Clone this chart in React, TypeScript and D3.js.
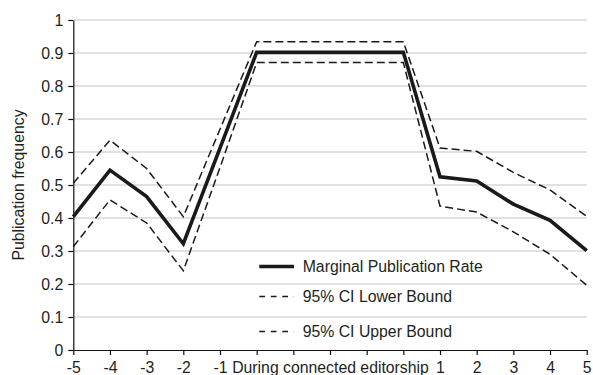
import React, { useEffect, useRef } from "react";
import * as d3 from "d3";

// x categories (Excel style, labels sit on the tick marks)
const categories = ["-5", "-4", "-3", "-2", "-1", "", "", "During connected editorship", "", "", "1", "2", "3", "4", "5"];
const marginalRate = [0.404, 0.545, 0.465, 0.322, 0.612, 0.902, 0.902, 0.902, 0.902, 0.902, 0.525, 0.512, 0.442, 0.393, 0.301];
const ciLower = [0.313, 0.455, 0.385, 0.24, 0.553, 0.871, 0.871, 0.871, 0.871, 0.871, 0.436, 0.418, 0.358, 0.29, 0.196];
const ciUpper = [0.505, 0.636, 0.55, 0.404, 0.669, 0.934, 0.934, 0.934, 0.934, 0.934, 0.612, 0.602, 0.538, 0.485, 0.405];
const yTicks = [0, 0.1, 0.2, 0.3, 0.4, 0.5, 0.6, 0.7, 0.8, 0.9, 1];
const legendItems = ["Marginal Publication Rate", "95% CI Lower Bound", "95% CI Upper Bound"];

const FONT = "'Liberation Sans', Arial, sans-serif";
const TEXT = "#231f20";
const FONT_SIZE = "15.8px";

const App = () => {
    const ref = useRef<SVGSVGElement>(null);

    useEffect(() => {
        const svg = d3.select(ref.current);
        svg.selectAll("*").remove();

        const margin = { top: 20, left: 73.3, right: 6.3, bottom: 25 };
        const width = 593, height = 375;

        const x = d3.scalePoint<number>()
            .domain(categories.map((_, i) => i))
            .range([margin.left, width - margin.right]);
        const y = d3.scaleLinear()
            .domain([0, 1])
            .range([height - margin.bottom, margin.top]);

        // gridlines
        svg.append("g")
            .selectAll("line")
            .data(yTicks.filter(d => d > 0))
            .enter()
            .append("line")
            .attr("x1", margin.left)
            .attr("x2", width - margin.right)
            .attr("y1", d => y(d))
            .attr("y2", d => y(d))
            .attr("stroke", "#c4c4c4")
            .attr("stroke-width", 1.2);

        // y axis
        const yAxis = svg.append("g")
            .attr("transform", "translate(" + margin.left + ",0)")
            .call(d3.axisLeft(y).tickValues(yTicks).tickSize(5).tickPadding(5)
                .tickFormat(d => d3.format(".1~f")(d as number)).tickSizeOuter(0));
        // x axis
        const xAxis = svg.append("g")
            .attr("transform", "translate(0," + y(0) + ")")
            .call(d3.axisBottom(x).tickSize(5).tickPadding(7)
                .tickFormat(i => categories[i as number]).tickSizeOuter(0));

        [yAxis, xAxis].forEach(a => {
            a.select(".domain").attr("stroke", "#111").attr("stroke-width", 1.2);
            a.selectAll(".tick line").attr("stroke", "#111").attr("stroke-width", 1.2);
            a.selectAll("text")
                .attr("fill", TEXT)
                .style("font-family", FONT)
                .style("font-size", FONT_SIZE);
        });
        xAxis.selectAll("text").attr("dy", "0.68em");

        // y axis title
        svg.append("text")
            .attr("transform", "translate(23.5," + y(0.5) + ") rotate(-90)")
            .attr("text-anchor", "middle")
            .attr("fill", TEXT)
            .style("font-family", FONT)
            .style("font-size", FONT_SIZE)
            .text("Publication frequency");

        const line = d3.line<number>()
            .x((_, i) => x(i) as number)
            .y(d => y(d));

        const series = [
            { values: ciLower, width: 1.5, dash: "8,4" },
            { values: ciUpper, width: 1.5, dash: "8,4" },
            { values: marginalRate, width: 3.6, dash: null },
        ];
        series.forEach(s => {
            svg.append("path")
                .datum(s.values)
                .attr("d", line)
                .attr("fill", "none")
                .attr("stroke", "#1a1a1a")
                .attr("stroke-width", s.width)
                .attr("stroke-dasharray", s.dash)
                .attr("stroke-linejoin", "miter");
        });

        // legend
        const rowsY = [266.5, 296.5, 331.5];
        const legend = svg.append("g");
        legendItems.forEach((label, i) => {
            legend.append("line")
                .attr("x1", 259.3)
                .attr("x2", 294)
                .attr("y1", rowsY[i])
                .attr("y2", rowsY[i])
                .attr("stroke", "#1a1a1a")
                .attr("stroke-width", i === 0 ? 3.6 : 1.5)
                .attr("stroke-dasharray", i === 0 ? null : "5.7,5.8");
            legend.append("text")
                .attr("x", 302.7)
                .attr("y", rowsY[i])
                .attr("dy", "0.35em")
                .attr("fill", TEXT)
                .style("font-family", FONT)
                .style("font-size", FONT_SIZE)
                .text(label);
        });
    }, []);

    return (
        <svg
            ref={ref}
            width={593}
            height={375}
            style={{ position: "absolute", left: 0, top: 0, background: "#fff" }}
        />
    );
};

export default App;
